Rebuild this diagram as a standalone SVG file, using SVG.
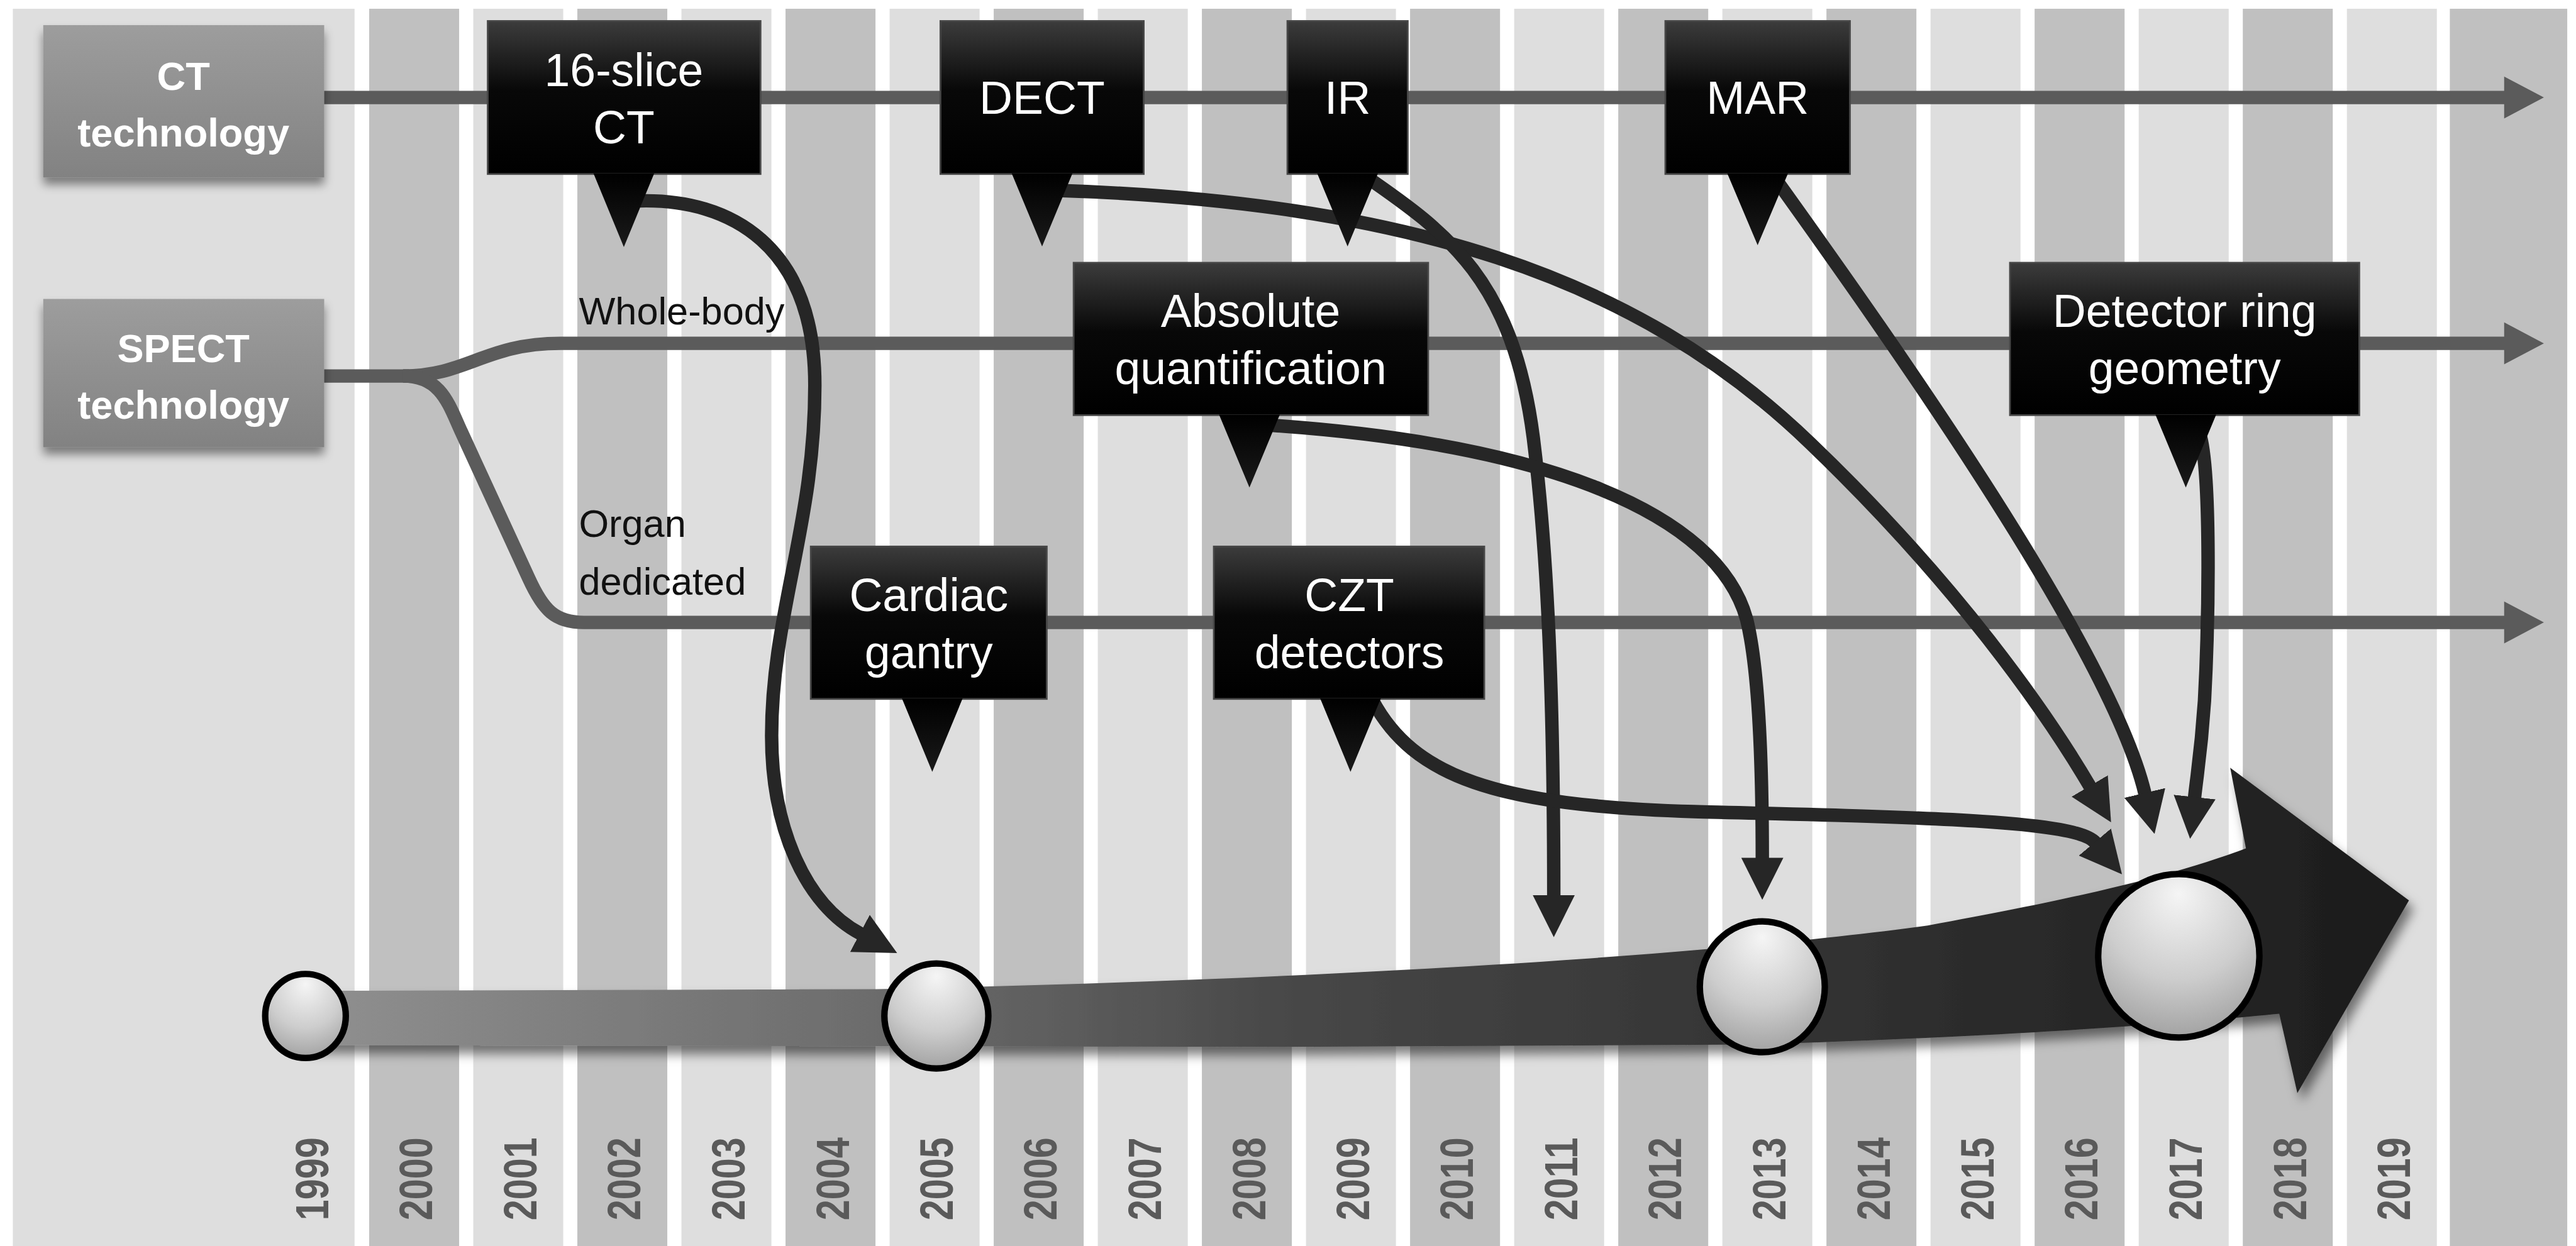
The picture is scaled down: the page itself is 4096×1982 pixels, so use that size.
<svg xmlns="http://www.w3.org/2000/svg" width="4096" height="1982" viewBox="0 0 4096 1982">
<defs>
<style>
.colL{fill:#dedede}
.colD{fill:#c0c0c0}
.lane{fill:none;stroke:#5b5b5b;stroke-width:23}
.laneHead{fill:#5b5b5b}
.conn{fill:none;stroke:#262626;stroke-width:23;marker-end:url(#ah)}
.box{fill:url(#boxGrad);stroke:#474747;stroke-width:3}
.ptr{fill:url(#ptrGrad)}
.bt{font-family:"Liberation Sans",Arial,sans-serif;font-size:79px;fill:#ffffff;text-anchor:middle}
.tech{fill:url(#techGrad);filter:url(#shadow)}
.tt{font-family:"Liberation Sans",Arial,sans-serif;font-size:68px;font-weight:bold;fill:#ffffff;text-anchor:middle}
.lbl{font-family:"Liberation Sans",Arial,sans-serif;font-size:66px;fill:#111111}
.yr{font-family:"Liberation Sans",Arial,sans-serif;font-size:80px;font-weight:bold;fill:#5a5a5a;text-anchor:middle}
.ms{fill:url(#sphere);stroke:#000000;stroke-width:11}
</style>
<marker id="ah" markerUnits="userSpaceOnUse" markerWidth="72" markerHeight="72" viewBox="0 0 72 72" refX="1" refY="36" orient="auto">
<path d="M0,0 L72,36 L0,72 Z" fill="#262626"/>
</marker>
<linearGradient id="boxGrad" x1="0" y1="0" x2="0" y2="1">
<stop offset="0" stop-color="#3c3c3c"/><stop offset="0.45" stop-color="#080808"/><stop offset="1" stop-color="#000000"/>
</linearGradient>
<linearGradient id="ptrGrad" x1="0" y1="0" x2="0" y2="1">
<stop offset="0" stop-color="#000000"/><stop offset="1" stop-color="#1a1a1a"/>
</linearGradient>
<linearGradient id="techGrad" x1="0" y1="0" x2="0" y2="1">
<stop offset="0" stop-color="#9d9d9d"/><stop offset="1" stop-color="#828282"/>
</linearGradient>
<radialGradient id="sphere" cx="0.5" cy="0.22" r="0.85" fx="0.5" fy="0.12">
<stop offset="0" stop-color="#f5f5f5"/><stop offset="0.55" stop-color="#cdcdcd"/><stop offset="1" stop-color="#9a9a9a"/>
</radialGradient>
<linearGradient id="bandGrad" gradientUnits="userSpaceOnUse" x1="523" y1="0" x2="4124" y2="0">
<stop offset="0" stop-color="#909090"/><stop offset="0.3" stop-color="#686868"/><stop offset="0.47" stop-color="#474747"/><stop offset="0.8" stop-color="#2b2b2b"/><stop offset="1" stop-color="#1c1c1c"/>
</linearGradient>
<filter id="shadow" x="-10%" y="-10%" width="125%" height="140%">
<feDropShadow dx="0" dy="12" stdDeviation="8" flood-color="#000000" flood-opacity="0.45"/>
</filter>
<filter id="bshadow" x="-5%" y="-20%" width="115%" height="160%">
<feDropShadow dx="8" dy="14" stdDeviation="9" flood-color="#000000" flood-opacity="0.5"/>
</filter>
</defs>
<rect x="0" y="0" width="4096" height="1982" fill="#ffffff"/>
<g transform="scale(0.928798)">
<g id="background">
<rect class="colL" x="22" y="15" width="585" height="2119"/>
<rect class="colD" x="632" y="15" width="154" height="2119"/>
<rect class="colL" x="810.2" y="15" width="154" height="2119"/>
<rect class="colD" x="988.4" y="15" width="154" height="2119"/>
<rect class="colL" x="1166.6" y="15" width="154" height="2119"/>
<rect class="colD" x="1344.8" y="15" width="154" height="2119"/>
<rect class="colL" x="1523" y="15" width="154" height="2119"/>
<rect class="colD" x="1701.2" y="15" width="154" height="2119"/>
<rect class="colL" x="1879.4" y="15" width="154" height="2119"/>
<rect class="colD" x="2057.6" y="15" width="154" height="2119"/>
<rect class="colL" x="2235.8" y="15" width="154" height="2119"/>
<rect class="colD" x="2414" y="15" width="154" height="2119"/>
<rect class="colL" x="2592.2" y="15" width="154" height="2119"/>
<rect class="colD" x="2770.4" y="15" width="154" height="2119"/>
<rect class="colL" x="2948.6" y="15" width="154" height="2119"/>
<rect class="colD" x="3126.8" y="15" width="154" height="2119"/>
<rect class="colL" x="3305" y="15" width="154" height="2119"/>
<rect class="colD" x="3483.2" y="15" width="154" height="2119"/>
<rect class="colL" x="3661.4" y="15" width="154" height="2119"/>
<rect class="colD" x="3839.6" y="15" width="154" height="2119"/>
<rect class="colL" x="4017.8" y="15" width="154" height="2119"/>
<rect class="colD" x="4194" y="15" width="201" height="2119"/>
</g>
<g id="lanes">
<path class="lane" d="M554,167 L4290,167"/>
<polygon class="laneHead" points="4287,131 4355,167 4287,203"/>
<path class="lane" d="M554,644 L700,644"/>
<path class="lane" d="M690,644 C800,644 830,588 960,588 L4290,588"/>
<polygon class="laneHead" points="4287,552 4355,588 4287,624"/>
<path class="lane" d="M690,644 C755,644 768,692 790,740 L905,990 C930,1045 950,1066 1000,1066 L4290,1066"/>
<polygon class="laneHead" points="4287,1030 4355,1066 4287,1102"/>
</g>
<g id="node-ct-technology">
<rect class="tech" x="74" y="43" width="481" height="261"/>
<text class="tt" x="314" y="154">CT</text>
<text class="tt" x="314" y="251">technology</text>
</g>
<g id="node-spect-technology">
<rect class="tech" x="74" y="512" width="481" height="254"/>
<text class="tt" x="314" y="620">SPECT</text>
<text class="tt" x="314" y="717">technology</text>
</g>
<g id="timeline-arrow">
<path d="M523,1697 L1500,1694 C2200,1680 2900,1640 3300,1585 C3550,1540 3720,1500 3845,1453 L3818,1315 L4124,1542 L3933,1872 L3902,1736 C3750,1751 3450,1775 3000,1789 L2200,1793 L523,1790 Z" fill="url(#bandGrad)" filter="url(#bshadow)"/>
</g>
<g id="milestone-1999"><ellipse class="ms" cx="523" cy="1740" rx="69" ry="72"/></g>
<g id="milestone-2005"><ellipse class="ms" cx="1603" cy="1740" rx="89" ry="90"/></g>
<g id="milestone-2013"><ellipse class="ms" cx="3017" cy="1690" rx="107" ry="112"/></g>
<g id="milestone-2017"><ellipse class="ms" cx="3730" cy="1637" rx="138" ry="140"/></g>
<g id="connectors">
<path class="conn" d="M1095,344 C1250,340 1395,420 1395,660 C1395,900 1321,1050 1321,1260 C1321,1420 1380,1550 1473,1599"/>
<path class="conn" d="M1805,326 C2400,345 2800,470 3100,760 C3350,1000 3502,1218 3578,1347"/>
<path class="conn" d="M2335,300 C2480,400 2590,480 2625,750 C2650,950 2660,1200 2660,1534"/>
<path class="conn" d="M3035,300 C3250,600 3614,1116 3672,1359"/>
<path class="conn" d="M2170,728 C2650,760 2940,880 2990,1060 C3010,1140 3017,1300 3017,1470"/>
<path class="conn" d="M3765,740 C3785,800 3782,1050 3774,1200 C3768,1290 3762,1320 3757,1366"/>
<path class="conn" d="M2350,1200 C2420,1330 2560,1380 2900,1390 C3300,1400 3555,1405 3587,1443"/>
</g>
<g id="node-16-slice-ct">
<rect class="box" x="835" y="36" width="467" height="262"/>
<polygon class="ptr" points="1016,297 1120,297 1068,423"/>
<text class="bt" x="1068" y="147">16-slice</text>
<text class="bt" x="1068" y="245">CT</text>
</g>
<g id="node-dect">
<rect class="box" x="1610" y="36" width="348" height="262"/>
<polygon class="ptr" points="1732,297 1836,297 1784,422"/>
<text class="bt" x="1784" y="195">DECT</text>
</g>
<g id="node-ir">
<rect class="box" x="2204" y="36" width="206" height="262"/>
<polygon class="ptr" points="2255,297 2359,297 2307,422"/>
<text class="bt" x="2307" y="195">IR</text>
</g>
<g id="node-mar">
<rect class="box" x="2851" y="36" width="316" height="262"/>
<polygon class="ptr" points="2957,297 3061,297 3009,420"/>
<text class="bt" x="3009" y="195">MAR</text>
</g>
<g id="node-absolute-quantification">
<rect class="box" x="1838" y="450" width="607" height="261"/>
<polygon class="ptr" points="2087,710 2191,710 2139,835"/>
<text class="bt" x="2141" y="560">Absolute</text>
<text class="bt" x="2141" y="658">quantification</text>
</g>
<g id="node-detector-ring-geometry">
<rect class="box" x="3441" y="450" width="598" height="261"/>
<polygon class="ptr" points="3690,710 3794,710 3742,835"/>
<text class="bt" x="3740" y="560">Detector ring</text>
<text class="bt" x="3740" y="658">geometry</text>
</g>
<g id="node-cardiac-gantry">
<rect class="box" x="1388" y="936" width="404" height="261"/>
<polygon class="ptr" points="1544,1196 1648,1196 1596,1322"/>
<text class="bt" x="1590" y="1047">Cardiac</text>
<text class="bt" x="1590" y="1145">gantry</text>
</g>
<g id="node-czt-detectors">
<rect class="box" x="2078" y="936" width="463" height="261"/>
<polygon class="ptr" points="2260,1196 2364,1196 2312,1322"/>
<text class="bt" x="2310" y="1047">CZT</text>
<text class="bt" x="2310" y="1145">detectors</text>
</g>
<g id="lane-labels">
<text class="lbl" x="991" y="556">Whole-body</text>
<text class="lbl" x="991" y="919">Organ</text>
<text class="lbl" x="991" y="1019">dedicated</text>
</g>
<g id="years">
<text class="yr" transform="translate(562,2019) rotate(-90)" textLength="142" lengthAdjust="spacingAndGlyphs">1999</text>
<text class="yr" transform="translate(740,2019) rotate(-90)" textLength="142" lengthAdjust="spacingAndGlyphs">2000</text>
<text class="yr" transform="translate(918,2019) rotate(-90)" textLength="142" lengthAdjust="spacingAndGlyphs">2001</text>
<text class="yr" transform="translate(1096,2019) rotate(-90)" textLength="142" lengthAdjust="spacingAndGlyphs">2002</text>
<text class="yr" transform="translate(1275,2019) rotate(-90)" textLength="142" lengthAdjust="spacingAndGlyphs">2003</text>
<text class="yr" transform="translate(1453,2019) rotate(-90)" textLength="142" lengthAdjust="spacingAndGlyphs">2004</text>
<text class="yr" transform="translate(1631,2019) rotate(-90)" textLength="142" lengthAdjust="spacingAndGlyphs">2005</text>
<text class="yr" transform="translate(1809,2019) rotate(-90)" textLength="142" lengthAdjust="spacingAndGlyphs">2006</text>
<text class="yr" transform="translate(1987,2019) rotate(-90)" textLength="142" lengthAdjust="spacingAndGlyphs">2007</text>
<text class="yr" transform="translate(2166,2019) rotate(-90)" textLength="142" lengthAdjust="spacingAndGlyphs">2008</text>
<text class="yr" transform="translate(2344,2019) rotate(-90)" textLength="142" lengthAdjust="spacingAndGlyphs">2009</text>
<text class="yr" transform="translate(2522,2019) rotate(-90)" textLength="142" lengthAdjust="spacingAndGlyphs">2010</text>
<text class="yr" transform="translate(2700,2019) rotate(-90)" textLength="142" lengthAdjust="spacingAndGlyphs">2011</text>
<text class="yr" transform="translate(2878,2019) rotate(-90)" textLength="142" lengthAdjust="spacingAndGlyphs">2012</text>
<text class="yr" transform="translate(3057,2019) rotate(-90)" textLength="142" lengthAdjust="spacingAndGlyphs">2013</text>
<text class="yr" transform="translate(3235,2019) rotate(-90)" textLength="142" lengthAdjust="spacingAndGlyphs">2014</text>
<text class="yr" transform="translate(3413,2019) rotate(-90)" textLength="142" lengthAdjust="spacingAndGlyphs">2015</text>
<text class="yr" transform="translate(3591,2019) rotate(-90)" textLength="142" lengthAdjust="spacingAndGlyphs">2016</text>
<text class="yr" transform="translate(3769,2019) rotate(-90)" textLength="142" lengthAdjust="spacingAndGlyphs">2017</text>
<text class="yr" transform="translate(3948,2019) rotate(-90)" textLength="142" lengthAdjust="spacingAndGlyphs">2018</text>
<text class="yr" transform="translate(4126,2019) rotate(-90)" textLength="142" lengthAdjust="spacingAndGlyphs">2019</text>
</g>
</g>
</svg>
